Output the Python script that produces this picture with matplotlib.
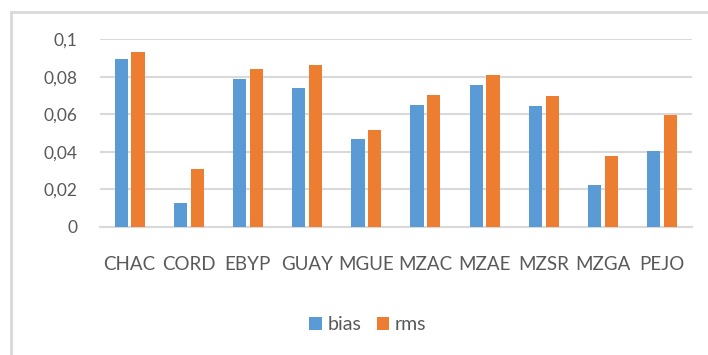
import matplotlib.pyplot as plt
from matplotlib.lines import Line2D
from matplotlib.ticker import FuncFormatter
import numpy as np

stations = ["CHAC", "CORD", "EBYP", "GUAY", "MGUE", "MZAC", "MZAE", "MZSR", "MZGA", "PEJO"]
bias = [0.0893, 0.0125, 0.0788, 0.0738, 0.0468, 0.0648, 0.0758, 0.0644, 0.0221, 0.0402]
rms = [0.0931, 0.0306, 0.0840, 0.0861, 0.0518, 0.0701, 0.0808, 0.0697, 0.0376, 0.0598]
yticks = [0, 0.02, 0.04, 0.06, 0.08, 0.1]

plt.rcParams["font.family"] = ["Lato", "DejaVu Sans"]
text_col = "#595959"
grid_col = "#d9d9d9"

fig = plt.figure(figsize=(7.08, 3.55), dpi=100)
ax = fig.add_axes([100 / 708, 0.3614, 591.7 / 708, 0.5279])

x = np.arange(len(stations))
w = 0.225
ax.bar(x - 0.142, bias, w, color="#5b9bd5", label="bias", zorder=3)
ax.bar(x + 0.142, rms, w, color="#ed7d31", label="rms", zorder=3)

ax.set_xlim(-0.5, len(stations) - 0.5)
ax.set_ylim(0, 0.1)
ax.set_yticks(yticks)
# comma as decimal separator
ax.yaxis.set_major_formatter(FuncFormatter(lambda v, p: ("%g" % round(v, 2)).replace(".", ",")))
ax.set_xticks(x)
ax.set_xticklabels(stations)
ax.tick_params(axis="both", length=0, colors=text_col)
ax.tick_params(axis="y", pad=16, labelsize=12.5)
ax.tick_params(axis="x", pad=21, labelsize=13.5)
ax.grid(axis="y", color=grid_col, linewidth=1.5, zorder=0)
for s in ["top", "right", "left"]:
    ax.spines[s].set_visible(False)
ax.spines["bottom"].set_color(grid_col)
ax.spines["bottom"].set_linewidth(1.5)

fig.legend(loc="center", bbox_to_anchor=(368 / 708, 1 - 325 / 355), ncol=2, frameon=False,
           fontsize=14, handlelength=0.63, handleheight=0.63, handletextpad=0.3,
           columnspacing=0.8, labelcolor=text_col)

# chart frame (top and left edges)
fig.add_artist(Line2D([11 / 708, 11 / 708], [0, 1 - 12 / 355], color=grid_col, linewidth=2))
fig.add_artist(Line2D([11 / 708, 1], [1 - 12 / 355, 1 - 12 / 355], color=grid_col, linewidth=2))

fig.savefig("out.png", dpi=100, facecolor="white")
